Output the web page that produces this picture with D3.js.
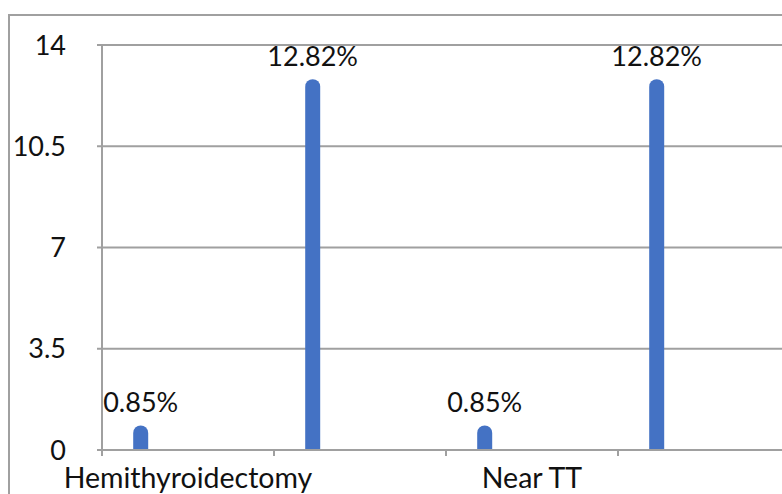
<!DOCTYPE html>
<html>
<head>
<meta charset="utf-8" />
<script src="https://d3js.org/d3.v7.min.js"></script>
<style>
  body { margin: 0; background: #fff; }
  svg { display: block; font-family: Lato, "Open Sans", sans-serif; }
</style>
</head>
<body>
<svg id="chart" width="782" height="494"></svg>
<script>
// chart data
const categories = ["Hemithyroidectomy", "blank1", "Near TT", "blank2"];
const categoryLabels = ["Hemithyroidectomy", "", "Near TT", ""];
const values = [0.85, 12.82, 0.85, 12.82];
const valueLabels = ["0.85%", "12.82%", "0.85%", "12.82%"];
const yTicks = [0, 3.5, 7, 10.5, 14];

const svg = d3.select("#chart");
const plotLeft = 102, plotTop = 45, plotRight = 790, plotBottom = 450;

// outer frame
svg.append("rect")
  .attr("x", 9).attr("y", 15)
  .attr("width", 800).attr("height", 520)
  .attr("fill", "none").attr("stroke", "#a0a0a0").attr("stroke-width", 2);

const x = d3.scaleBand().domain(categories).range([plotLeft, plotRight]);
const y = d3.scaleLinear().domain([0, 14]).range([plotBottom, plotTop]);

// gridlines
svg.append("g").selectAll("line").data(yTicks).join("line")
  .attr("x1", plotLeft - 5).attr("x2", plotRight)
  .attr("y1", d => y(d)).attr("y2", d => y(d))
  .attr("stroke", "#a0a0a0").attr("stroke-width", 2);

// y axis line
svg.append("line")
  .attr("x1", plotLeft).attr("x2", plotLeft)
  .attr("y1", y(14)).attr("y2", plotBottom + 6)
  .attr("stroke", "#a0a0a0").attr("stroke-width", 2);

// x ticks at band edges
svg.append("g").selectAll("line").data(categories.slice(1)).join("line")
  .attr("x1", d => x(d)).attr("x2", d => x(d))
  .attr("y1", plotBottom).attr("y2", plotBottom + 6)
  .attr("stroke", "#a0a0a0").attr("stroke-width", 2);

// y tick labels
svg.append("g").selectAll("text").data(yTicks).join("text")
  .attr("x", 66).attr("y", d => y(d))
  .attr("dy", "0.36em")
  .attr("text-anchor", "end")
  .attr("font-size", 27)
  .attr("fill", "#111")
  .text(d => d);

// x labels
svg.append("g").selectAll("text").data(categories).join("text")
  .attr("x", d => x(d) + x.bandwidth() / 2)
  .attr("y", 488)
  .attr("text-anchor", "middle")
  .attr("font-size", 28.5)
  .attr("fill", "#111")
  .text((d, i) => categoryLabels[i]);

// bars with rounded tops
const bw = 15, r = bw / 2;
const cx = d => x(d) + x.bandwidth() * 0.225;
svg.append("g").selectAll("path").data(categories).join("path")
  .attr("d", (d, i) => {
    const x0 = cx(d) - r, t = y(values[i]);
    return `M${x0},${plotBottom - 1} V${t + r} A${r},${r} 0 0 1 ${x0 + bw},${t + r} V${plotBottom - 1} Z`;
  })
  .attr("fill", "#4472c4");

// value labels
svg.append("g").selectAll("text").data(categories).join("text")
  .attr("x", d => cx(d))
  .attr("y", (d, i) => y(values[i]) - 13)
  .attr("text-anchor", "middle")
  .attr("font-size", 27)
  .attr("fill", "#111")
  .text((d, i) => valueLabels[i]);
</script>
</body>
</html>
